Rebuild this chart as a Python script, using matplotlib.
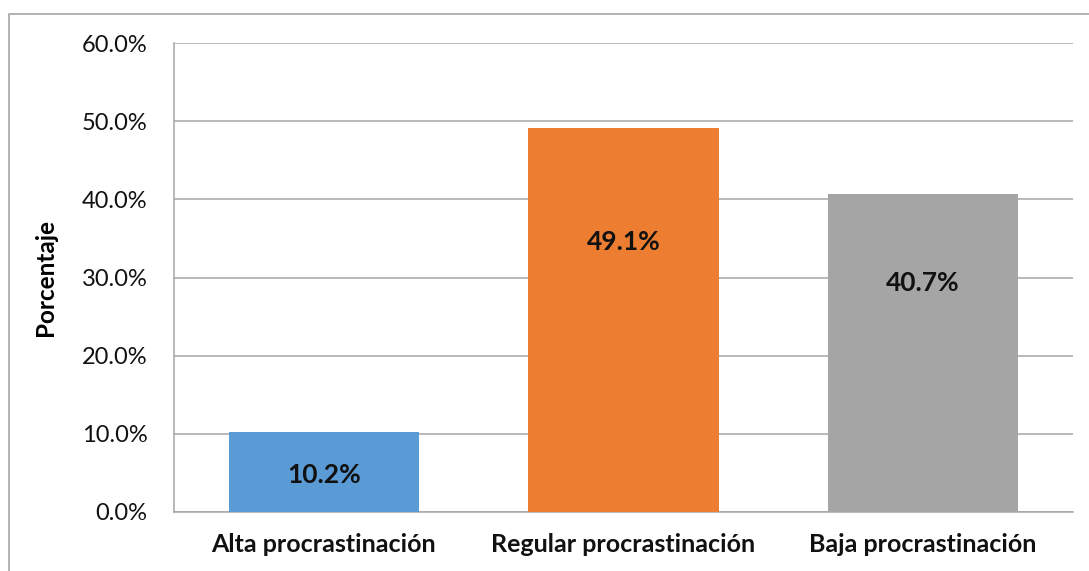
import matplotlib
matplotlib.use("Agg")
import matplotlib.pyplot as plt
from matplotlib.patches import Rectangle
from matplotlib.ticker import FuncFormatter

categories = ["Alta procrastinación", "Regular procrastinación", "Baja procrastinación"]
values = [10.2, 49.1, 40.7]
colors = ["#5b9bd5", "#ed7d31", "#a5a5a5"]

plt.rcParams["font.family"] = ["Lato", "DejaVu Sans"]

fig = plt.figure(figsize=(10.89, 5.71), dpi=100)
ax = fig.add_axes([174 / 1089, 1 - 512 / 571, (1073 - 174) / 1089, (512 - 43) / 571])

# outer chart frame (cut off at right and bottom as in the source)
fig.patches.append(Rectangle((9 / 1089, -0.5), 2, 0.5 + 1 - 14 / 571,
                             transform=fig.transFigure, fill=False,
                             edgecolor="#a6a6a6", lw=1.2))

x = range(len(categories))
ax.bar(x, values, color=colors, width=0.635, zorder=3)

# label heights as placed in the source chart
label_y = [4.7, 34.5, 29.3]
for xi, v, ly in zip(x, values, label_y):
    ax.text(xi, ly, f"{v:.1f}%", ha="center", va="center",
            fontsize=19, fontweight="bold", color="#111111", zorder=4)

ax.set_xlim(-0.5, 2.5)
ax.set_ylim(0, 60)
ax.set_yticks(range(0, 61, 10))
ax.yaxis.set_major_formatter(FuncFormatter(lambda v, p: f"{v:.1f}%"))
ax.set_xticks(list(x))
ax.set_xticklabels(categories, fontweight="bold", fontsize=18)
ax.tick_params(axis="both", length=0, colors="#111111")
ax.tick_params(axis="y", pad=19, labelsize=17)
ax.tick_params(axis="x", pad=15)
ax.grid(axis="y", color="#a6a6a6", lw=1.1, zorder=0)
for s in ["top", "right"]:
    ax.spines[s].set_visible(False)
for s in ["left", "bottom"]:
    ax.spines[s].set_color("#a6a6a6")
    ax.spines[s].set_linewidth(1.1)
ax.set_ylabel("Porcentaje", fontsize=17.5, fontweight="bold", labelpad=18)

fig.savefig("out.png", dpi=100)
